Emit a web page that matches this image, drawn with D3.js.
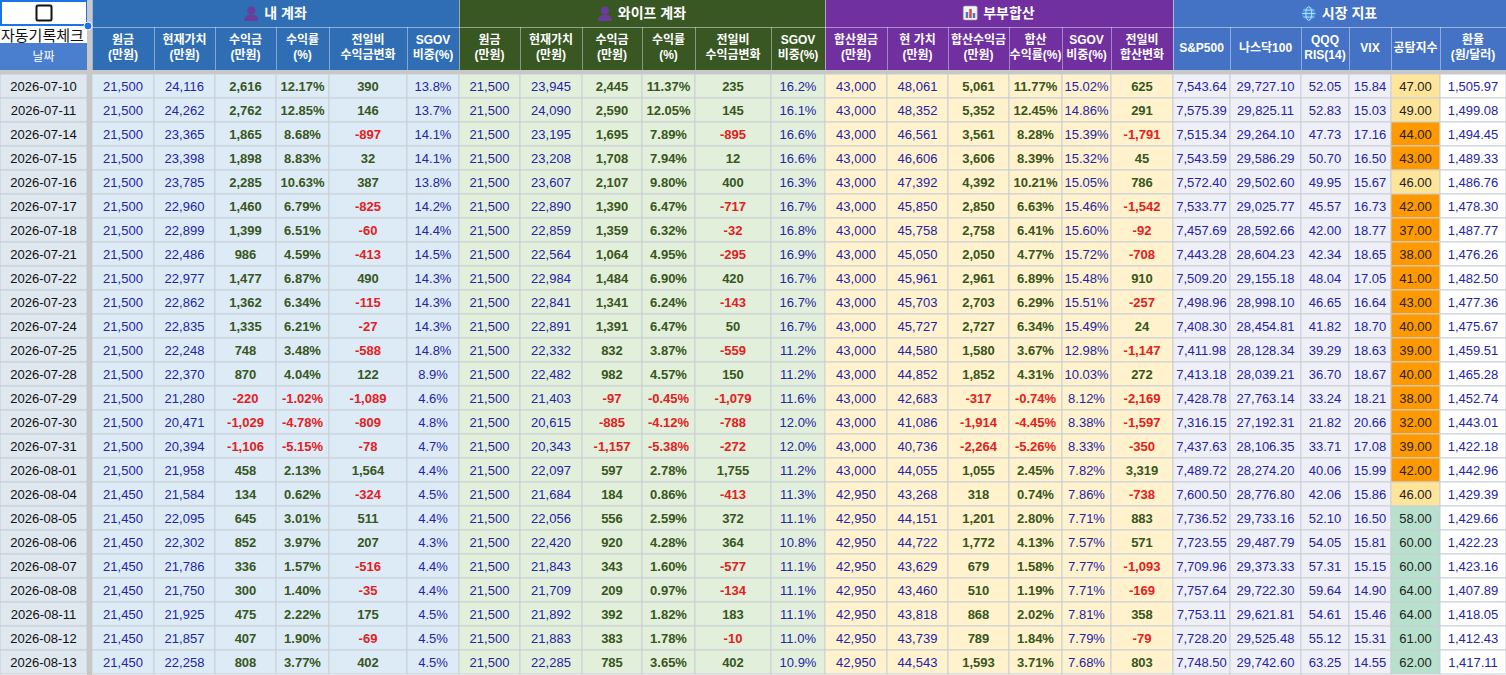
<!DOCTYPE html>
<html><head><meta charset="utf-8">
<script src="https://cdn.jsdelivr.net/npm/d3@7"></script>
<style>
body{margin:0;background:#fff;}
svg{display:block;font-family:"Liberation Sans","Noto Sans CJK KR",Arial,sans-serif;}
</style></head><body>
<svg id="c" width="1506" height="675"></svg>
<script>
// ---------- DATA ----------
const dates = ["2026-07-10","2026-07-11","2026-07-14","2026-07-15","2026-07-16","2026-07-17","2026-07-18","2026-07-21","2026-07-22","2026-07-23","2026-07-24","2026-07-25","2026-07-28","2026-07-29","2026-07-30","2026-07-31","2026-08-01","2026-08-04","2026-08-05","2026-08-06","2026-08-07","2026-08-08","2026-08-11","2026-08-12","2026-08-13"];
const myPrincipal = [21500,21500,21500,21500,21500,21500,21500,21500,21500,21500,21500,21500,21500,21500,21500,21500,21500,21450,21450,21450,21450,21450,21450,21450,21450];
const myValue = [24116,24262,23365,23398,23785,22960,22899,22486,22977,22862,22835,22248,22370,21280,20471,20394,21958,21584,22095,22302,21786,21750,21925,21857,22258];
const myProfit = [2616,2762,1865,1898,2285,1460,1399,986,1477,1362,1335,748,870,-220,-1029,-1106,458,134,645,852,336,300,475,407,808];
const myRate = [12.17,12.85,8.68,8.83,10.63,6.79,6.51,4.59,6.87,6.34,6.21,3.48,4.04,-1.02,-4.78,-5.15,2.13,0.62,3.01,3.97,1.57,1.40,2.22,1.90,3.77];
const myChange = [390,146,-897,32,387,-825,-60,-413,490,-115,-27,-588,122,-1089,-809,-78,1564,-324,511,207,-516,-35,175,-69,402];
const mySgov = [13.8,13.7,14.1,14.1,13.8,14.2,14.4,14.5,14.3,14.3,14.3,14.8,8.9,4.6,4.8,4.7,4.4,4.5,4.4,4.3,4.4,4.4,4.5,4.5,4.5];

const wifePrincipal = [21500,21500,21500,21500,21500,21500,21500,21500,21500,21500,21500,21500,21500,21500,21500,21500,21500,21500,21500,21500,21500,21500,21500,21500,21500];
const wifeValue = [23945,24090,23195,23208,23607,22890,22859,22564,22984,22841,22891,22332,22482,21403,20615,20343,22097,21684,22056,22420,21843,21709,21892,21883,22285];
const wifeProfit = [2445,2590,1695,1708,2107,1390,1359,1064,1484,1341,1391,832,982,-97,-885,-1157,597,184,556,920,343,209,392,383,785];
const wifeRate = [11.37,12.05,7.89,7.94,9.80,6.47,6.32,4.95,6.90,6.24,6.47,3.87,4.57,-0.45,-4.12,-5.38,2.78,0.86,2.59,4.28,1.60,0.97,1.82,1.78,3.65];
const wifeChange = [235,145,-895,12,400,-717,-32,-295,420,-143,50,-559,150,-1079,-788,-272,1755,-413,372,364,-577,-134,183,-10,402];
const wifeSgov = [16.2,16.1,16.6,16.6,16.3,16.7,16.8,16.9,16.7,16.7,16.7,11.2,11.2,11.6,12.0,12.0,11.2,11.3,11.1,10.8,11.1,11.1,11.1,11.0,10.9];

const sumPrincipal = [43000,43000,43000,43000,43000,43000,43000,43000,43000,43000,43000,43000,43000,43000,43000,43000,43000,42950,42950,42950,42950,42950,42950,42950,42950];
const sumValue = [48061,48352,46561,46606,47392,45850,45758,45050,45961,45703,45727,44580,44852,42683,41086,40736,44055,43268,44151,44722,43629,43460,43818,43739,44543];
const sumProfit = [5061,5352,3561,3606,4392,2850,2758,2050,2961,2703,2727,1580,1852,-317,-1914,-2264,1055,318,1201,1772,679,510,868,789,1593];
const sumRate = [11.77,12.45,8.28,8.39,10.21,6.63,6.41,4.77,6.89,6.29,6.34,3.67,4.31,-0.74,-4.45,-5.26,2.45,0.74,2.80,4.13,1.58,1.19,2.02,1.84,3.71];
const sumSgov = [15.02,14.86,15.39,15.32,15.05,15.46,15.60,15.72,15.48,15.51,15.49,12.98,10.03,8.12,8.38,8.33,7.82,7.86,7.71,7.57,7.77,7.71,7.81,7.79,7.68];
const sumChange = [625,291,-1791,45,786,-1542,-92,-708,910,-257,24,-1147,272,-2169,-1597,-350,3319,-738,883,571,-1093,-169,358,-79,803];

const sp500 = [7543.64,7575.39,7515.34,7543.59,7572.40,7533.77,7457.69,7443.28,7509.20,7498.96,7408.30,7411.98,7413.18,7428.78,7316.15,7437.63,7489.72,7600.50,7736.52,7723.55,7709.96,7757.64,7753.11,7728.20,7748.50];
const nasdaq100 = [29727.10,29825.11,29264.10,29586.29,29502.60,29025.77,28592.66,28604.23,29155.18,28998.10,28454.81,28128.34,28039.21,27763.14,27192.31,28106.35,28274.20,28776.80,29733.16,29487.79,29373.33,29722.30,29621.81,29525.48,29742.60];
const qqqRsi = [52.05,52.83,47.73,50.70,49.95,45.57,42.00,42.34,48.04,46.65,41.82,39.29,36.70,33.24,21.82,33.71,40.06,42.06,52.10,54.05,57.31,59.64,54.61,55.12,63.25];
const vix = [15.84,15.03,17.16,16.50,15.67,16.73,18.77,18.65,17.05,16.64,18.70,18.63,18.67,18.21,20.66,17.08,15.99,15.86,16.50,15.81,15.15,14.90,15.46,15.31,14.55];
const fearGreed = [47,49,44,43,46,42,37,38,41,43,40,39,40,38,32,39,42,46,58,60,60,64,64,61,62];
const fxRate = [1505.97,1499.08,1494.45,1489.33,1486.76,1478.30,1487.77,1476.26,1482.50,1477.36,1475.67,1459.51,1465.28,1452.74,1443.01,1422.18,1442.96,1429.39,1429.66,1422.23,1423.16,1407.89,1418.05,1412.43,1417.11];

const groupTitles = ["내 계좌","와이프 계좌","부부합산","시장 지표"];

// ---------- LAYOUT / STYLE ----------
const loc = d3.formatLocale({decimal:".",thousands:",",grouping:[3],currency:["",""],minus:"-"});
const fInt = loc.format(",.0f"), f1 = loc.format(".1f"), f2 = loc.format(",.2f");
const pct2 = v => f2(v)+"%", pct1 = v => f1(v)+"%";
const BLUE_T = "#2424a8", POS = "#385620", NEG = "#e32020";
const signColor = v => v < 0 ? NEG : POS;

const groups = [
  {title:groupTitles[0], head:"#2f6eb5", bg:"#ddebf7", icon:"person"},
  {title:groupTitles[1], head:"#385723", bg:"#e2efda", icon:"person"},
  {title:groupTitles[2], head:"#7030a0", bg:"#fff2cc", icon:"chart"},
  {title:groupTitles[3], head:"#4472c4", bg:"#efeff7", icon:"globe"}
];
const fgColor = d3.scaleThreshold().domain([45,55]).range(["#ff9900","#ffe599","#b7e1cd"]);

const columns = [
  {g:0,w:62,h:["원금","(만원)"],v:myPrincipal,f:fInt,c:()=>BLUE_T},
  {g:0,w:61,h:["현재가치","(만원)"],v:myValue,f:fInt,c:()=>BLUE_T},
  {g:0,w:61,h:["수익금","(만원)"],v:myProfit,f:fInt,c:signColor,b:1},
  {g:0,w:53,h:["수익률","(%)"],v:myRate,f:pct2,c:signColor,b:1},
  {g:0,w:78,h:["전일비","수익금변화"],v:myChange,f:fInt,c:signColor,b:1},
  {g:0,w:52,h:["SGOV","비중(%)"],v:mySgov,f:pct1,c:()=>BLUE_T},
  {g:1,w:61,h:["원금","(만원)"],v:wifePrincipal,f:fInt,c:()=>BLUE_T},
  {g:1,w:62,h:["현재가치","(만원)"],v:wifeValue,f:fInt,c:()=>BLUE_T},
  {g:1,w:60,h:["수익금","(만원)"],v:wifeProfit,f:fInt,c:signColor,b:1},
  {g:1,w:53,h:["수익률","(%)"],v:wifeRate,f:pct2,c:signColor,b:1},
  {g:1,w:76,h:["전일비","수익금변화"],v:wifeChange,f:fInt,c:signColor,b:1},
  {g:1,w:54,h:["SGOV","비중(%)"],v:wifeSgov,f:pct1,c:()=>BLUE_T},
  {g:2,w:62,h:["합산원금","(만원)"],v:sumPrincipal,f:fInt,c:()=>BLUE_T},
  {g:2,w:61,h:["현 가치","(만원)"],v:sumValue,f:fInt,c:()=>BLUE_T},
  {g:2,w:61,h:["합산수익금","(만원)"],v:sumProfit,f:fInt,c:signColor,b:1},
  {g:2,w:53,h:["합산","수익률(%)"],v:sumRate,f:pct2,c:signColor,b:1},
  {g:2,w:49,h:["SGOV","비중(%)"],v:sumSgov,f:pct2,c:()=>BLUE_T},
  {g:2,w:62,h:["전일비","합산변화"],v:sumChange,f:fInt,c:signColor,b:1},
  {g:3,w:57,h:["S&P500"],v:sp500,f:f2,c:()=>BLUE_T},
  {g:3,w:71,h:["나스닥100"],v:nasdaq100,f:f2,c:()=>BLUE_T},
  {g:3,w:48,h:["QQQ","RIS(14)"],v:qqqRsi,f:f2,c:()=>BLUE_T},
  {g:3,w:42,h:["VIX"],v:vix,f:f2,c:()=>BLUE_T},
  {g:3,w:49,h:["공탐지수"],v:fearGreed,f:f2,c:()=>"#222",bg:v=>fgColor(v)},
  {g:3,w:66,h:["환율","(원/달러)"],v:fxRate,f:f2,c:()=>BLUE_T,bg:()=>"#ffffff"}
];
const X0 = 92, DATE_W = 87;
let acc = X0;
columns.forEach(c=>{c.x=acc; acc+=c.w;});

const H_TOP = 27, H_SUB = 70, DATA_Y = 74, ROW_H = 24;
const y = d3.scaleBand().domain(dates).range([DATA_Y, DATA_Y + ROW_H*dates.length]);

const svg = d3.select("#c");

// ---------- DATA CELLS ----------
const rowG = svg.append("g");
rowG.selectAll("rect.d").data(dates).join("rect")
  .attr("x",0).attr("y",d=>y(d)).attr("width",DATE_W).attr("height",y.bandwidth())
  .attr("fill","#dfe7ef").attr("stroke","#c4cdd6").attr("stroke-width",1);
rowG.selectAll("text.d").data(dates).join("text")
  .attr("x",DATE_W/2).attr("y",d=>y(d)+y.bandwidth()/2+4.5).attr("text-anchor","middle")
  .attr("font-size",13).attr("fill","#111").text(d=>d);

columns.forEach(col=>{
  const g = rowG.append("g");
  const cells = dates.map((d,i)=>({d, v:col.v[i]}));
  g.selectAll("rect").data(cells).join("rect")
    .attr("x",col.x).attr("y",c=>y(c.d)).attr("width",col.w).attr("height",y.bandwidth())
    .attr("fill",c=>col.bg?col.bg(c.v):groups[col.g].bg)
    .attr("stroke","#c9cfd6").attr("stroke-width",1);
  g.selectAll("text").data(cells).join("text")
    .attr("x",col.x+col.w/2).attr("y",c=>y(c.d)+y.bandwidth()/2+4.5).attr("text-anchor","middle")
    .attr("font-size",13).attr("font-weight",col.b?"bold":"normal")
    .attr("fill",c=>col.c(c.v)).text(c=>col.f(c.v));
});

// ---------- HEADER ----------
const hdr = svg.append("g");
groups.forEach((gr,gi)=>{
  const cs = columns.filter(c=>c.g===gi);
  const gx = cs[0].x, gw = d3.sum(cs,c=>c.w);
  hdr.append("rect").attr("x",gx).attr("y",0).attr("width",gw).attr("height",H_SUB).attr("fill",gr.head);
  hdr.append("line").attr("x1",gx).attr("x2",gx+gw).attr("y1",H_TOP+0.5).attr("y2",H_TOP+0.5)
    .attr("stroke","rgba(255,255,255,0.45)");
  const t = hdr.append("text").attr("x",gx+gw/2+10).attr("y",18).attr("text-anchor","middle")
    .attr("font-size",14).attr("font-weight","bold").attr("fill","#fff").text(gr.title);
  const tw = t.node().getComputedTextLength();
  const ix = gx+gw/2+10 - tw/2 - 20, iy = 6;
  const ig = hdr.append("g").attr("transform",`translate(${ix},${iy})`);
  if(gr.icon==="person"){
    ig.append("circle").attr("cx",7).attr("cy",4.5).attr("r",4).attr("fill","#6a3d9a");
    ig.append("path").attr("d","M0,15 Q0,8.5 7,8.5 Q14,8.5 14,15 Z").attr("fill","#6a3d9a");
  } else if(gr.icon==="chart"){
    ig.append("rect").attr("x",0).attr("y",0).attr("width",14).attr("height",14).attr("rx",1.5).attr("fill","#f4f4f4").attr("stroke","#999").attr("stroke-width",0.6);
    ig.append("rect").attr("x",2.5).attr("y",6).attr("width",2.5).attr("height",6).attr("fill","#4a78c8");
    ig.append("rect").attr("x",6).attr("y",3).attr("width",2.5).attr("height",9).attr("fill","#e0453a");
    ig.append("rect").attr("x",9.5).attr("y",7).attr("width",2.5).attr("height",5).attr("fill","#4a78c8");
  } else {
    ig.append("circle").attr("cx",7).attr("cy",7.5).attr("r",6.8).attr("fill","#3d8ee0");
    ig.append("ellipse").attr("cx",7).attr("cy",7.5).attr("rx",3).attr("ry",6.8).attr("fill","none").attr("stroke","#cfe6fb").attr("stroke-width",0.9);
    ig.append("line").attr("x1",0.4).attr("x2",13.6).attr("y1",7.5).attr("y2",7.5).attr("stroke","#cfe6fb").attr("stroke-width",0.9);
    ig.append("line").attr("x1",1.5).attr("x2",12.5).attr("y1",4).attr("y2",4).attr("stroke","#cfe6fb").attr("stroke-width",0.8);
    ig.append("line").attr("x1",1.5).attr("x2",12.5).attr("y1",11).attr("y2",11).attr("stroke","#cfe6fb").attr("stroke-width",0.8);
  }
  cs.forEach((c,ci)=>{
    if(ci>0) hdr.append("line").attr("x1",c.x+0.5).attr("x2",c.x+0.5).attr("y1",H_TOP).attr("y2",H_SUB)
      .attr("stroke","rgba(255,255,255,0.4)");
    const n = c.h.length;
    c.h.forEach((ln,li)=>{
      hdr.append("text").attr("x",c.x+c.w/2)
        .attr("y", n===1 ? 52 : 45 + li*15 - 1)
        .attr("text-anchor","middle").attr("font-size",12).attr("font-weight","bold")
        .attr("fill","#fff").text(ln);
    });
  });
  hdr.append("line").attr("x1",gx+0.5).attr("x2",gx+0.5).attr("y1",0).attr("y2",H_SUB).attr("stroke","rgba(255,255,255,0.5)");
});

// top-left corner
hdr.append("rect").attr("x",0).attr("y",0).attr("width",DATE_W).attr("height",27).attr("fill","#fff");
hdr.append("rect").attr("x",0).attr("y",27).attr("width",DATE_W).attr("height",16).attr("fill","#fff");
hdr.append("rect").attr("x",0).attr("y",43).attr("width",DATE_W).attr("height",27).attr("fill","#4a7fd0");
hdr.append("text").attr("x",DATE_W/2).attr("y",61).attr("text-anchor","middle").attr("font-size",12)
  .attr("fill","#fff").text("날짜");
hdr.append("text").attr("x",1).attr("y",41).attr("font-size",15).attr("fill","#111").text("자동기록체크");
hdr.append("rect").attr("x",36.5).attr("y",5.5).attr("width",15).attr("height",15).attr("rx",1.5)
  .attr("fill","#fff").attr("stroke","#111").attr("stroke-width",2);
hdr.append("rect").attr("x",1).attr("y",1).attr("width",DATE_W-1).attr("height",24)
  .attr("fill","none").attr("stroke","#1a73e8").attr("stroke-width",2);

// freeze bars
svg.append("rect").attr("x",0).attr("y",H_SUB).attr("width",1506).attr("height",DATA_Y-H_SUB).attr("fill","#c8c8c8");
svg.append("rect").attr("x",DATE_W).attr("y",0).attr("width",X0-DATE_W).attr("height",675).attr("fill","#c8c8c8");
svg.append("circle").attr("cx",DATE_W+1).attr("cy",26).attr("r",4).attr("fill","#1a73e8").attr("stroke","#fff").attr("stroke-width",1);
</script>
</body></html>
